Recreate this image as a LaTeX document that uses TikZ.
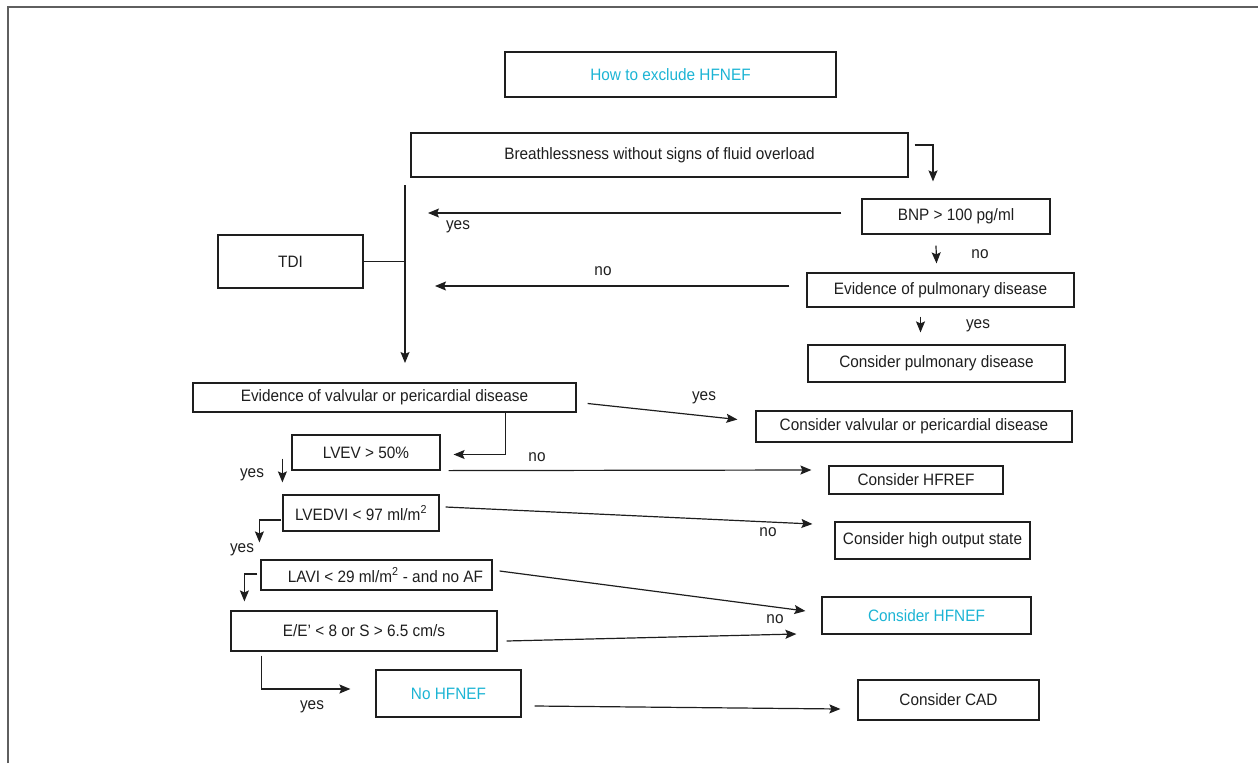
\documentclass[tikz,border=0pt]{standalone}
\usepackage{fontspec}
\setmainfont{Liberation Sans}[FakeStretch=0.93]
\usetikzlibrary{arrows.meta}
\usetikzlibrary{calc}
\definecolor{ink}{RGB}{30,30,30}
\definecolor{framegray}{RGB}{95,95,95}
\definecolor{hfcyan}{RGB}{28,180,212}
\tikzset{>={Stealth[width=9pt,length=11pt,inset=2pt]}}
\tikzset{box/.style={draw=ink,line width=1.2pt,inner sep=0pt,text=ink,font=\fontsize{16.5}{19}\selectfont}}
\tikzset{lab/.style={text=ink,inner sep=0pt,font=\fontsize{16.5}{19}\selectfont}}
\tikzset{conn/.style={draw=ink,line width=1.2pt}}

\begin{document}
\begin{tikzpicture}[x=1pt,y=-1pt]
\useasboundingbox (0,0) rectangle (1258,763);
\draw[line width=2pt,framegray] (8,763) -- (8,7) -- (1258,7);

\node[box,minimum width=331pt,minimum height=45pt,text=hfcyan] (title) at (670.5,74.5) {How to exclude HFNEF};
\node[box,minimum width=497pt,minimum height=44pt] (breath) at (659.5,155) {Breathlessness without signs of fluid overload};
\node[box,minimum width=188pt,minimum height=35pt] (bnp) at (956,216.5) {BNP > 100 pg/ml};
\node[box,minimum width=267pt,minimum height=34pt] (pulm) at (940.5,290) {Evidence of pulmonary disease};
\node[box,minimum width=257pt,minimum height=37pt] (conspulm) at (936.5,363.5) {Consider pulmonary disease};
\node[box,minimum width=145pt,minimum height=53pt] (tdi) at (290.5,261.5) {TDI};
\node[box,minimum width=383pt,minimum height=29pt] (valv) at (384.5,397.5) {Evidence of valvular or pericardial disease};
\node[box,minimum width=316pt,minimum height=31pt] (consvalv) at (914,426.5) {Consider valvular or pericardial disease};
\node[box,minimum width=148pt,minimum height=35pt] (lvev) at (366,452.5) {LVEV > 50\%};
\node[box,minimum width=174pt,minimum height=28pt] (hfref) at (916,480) {Consider HFREF};
\node[box,minimum width=156pt,minimum height=36pt] (lvedvi) at (361,513) {LVEDVI < 97 ml/m\textsuperscript{2}};
\node[box,minimum width=195pt,minimum height=37pt] (highout) at (932.5,540.5) {Consider high output state};
\node[box,minimum width=231pt,minimum height=30pt] (lavi) at (376.5,575) {\hspace*{18pt}LAVI < 29 ml/m\textsuperscript{2} - and no AF};
\node[box,minimum width=209pt,minimum height=37pt,text=hfcyan] (conshfnef) at (926.5,615.5) {Consider HFNEF};
\node[box,minimum width=266pt,minimum height=40pt] (ee) at (364,631) {E/E’ < 8 or S > 6.5 cm/s};
\node[box,minimum width=145pt,minimum height=47pt,text=hfcyan] (nohfnef) at (448.5,693.5) {No HFNEF};
\node[box,minimum width=181pt,minimum height=40pt] (cad) at (948.5,700) {Consider CAD};

% trunk on the left
\coordinate (trunktop) at (405,185);
\coordinate (trunkend) at (405,363);
\draw[conn,->] (trunktop) -- (trunkend);
\draw[conn] (tdi.east) -- (tdi.east -| trunktop);

\draw[conn,->] ($(breath.east)+(6,-10)$) -| ($(bnp.north)+(-23,-17)$);
\draw[conn,->] ($(bnp.west)+(-20,-3.5)$) -- ($(bnp.west -| trunktop)+(23,-3.5)$);
\node[lab] (yesbnp) at (458,227) {yes};
\draw[conn,->] ($(bnp.south)+(-20,11)$) -- ($(pulm.north)+(-4,-9)$);
\node[lab] (nobnp) at (980,254) {no};
\draw[conn,->] ($(pulm.west)+(-17,-4)$) -- ($(pulm.west -| trunktop)+(30,-4)$);
\node[lab] (nopulm) at (603,271) {no};
\draw[conn,->] ($(pulm.south)+(-20,9)$) -- ($(conspulm.north)+(-16,-12)$);
\node[lab] (yespulm) at (978,326) {yes};

\draw[conn,->] ($(valv.east)+(11,6)$) -- ($(consvalv.west)+(-18,-7)$);
\node[lab] (yesvalv) at (704,398) {yes};
\draw[conn,->] ($(valv.south east)+(-71,0)$) |- ($(lvev.east)+(13,2)$);

\draw[conn,->] ($(lvev.south east)+(8,0)$) -- ($(hfref.west)+(-17,-10)$);
\node[lab] (nolvev) at (537,457) {no};
\draw[conn,->] ($(lvev.west)+(-9,6)$) -- ($(lvedvi.north west)+(0,-12)$);
\node[lab] (yeslvev) at (252,475) {yes};

\draw[conn,->] ($(lvedvi.east)+(6,-6)$) -- ($(highout.west)+(-22,-16.5)$);
\node[lab] (nolvedvi) at (768,532) {no};
\draw[conn,->] ($(lvedvi.west)+(-1,7)$) -| ($(lavi.north west)+(-1,-17)$);
\node[lab] (yeslvedvi) at (242,550) {yes};

\draw[conn,->] ($(lavi.east)+(7,-4)$) -- ($(conshfnef.west)+(-16,-4.5)$);
\draw[conn,->] ($(lavi.west)+(-3,-1)$) -| ($(ee.north west)+(14,-9)$);

\draw[conn,->] ($(ee.east)+(9,10)$) -- ($(conshfnef.west)+(-25,18.5)$);
\node[lab] (noee) at (775,619) {no};
\draw[conn,->] ($(ee.south west)+(31,4)$) |- ($(nohfnef.west)+(-25,-4.5)$);
\node[lab] (yesee) at (312,707) {yes};

\draw[conn,->] ($(nohfnef.east)+(13,12.5)$) -- ($(cad.west)+(-17,9)$);
\end{tikzpicture}
\end{document}
